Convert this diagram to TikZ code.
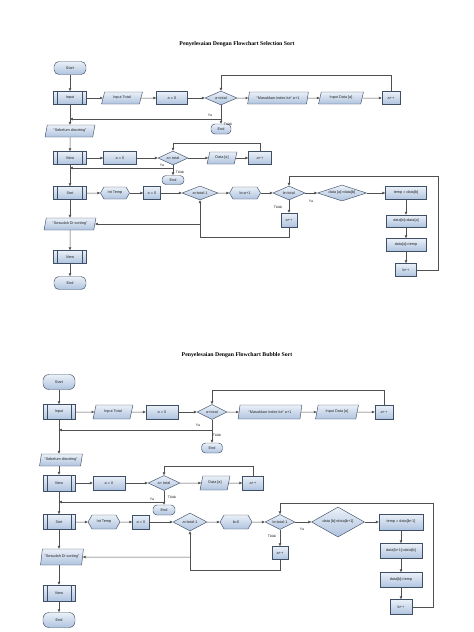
\documentclass[tikz,border=0pt]{standalone}
\usepackage{fontspec}
\setmainfont{Liberation Sans}
\newfontfamily\titlefont{Liberation Serif}
\usetikzlibrary{shapes.geometric,shapes.symbols,arrows.meta,calc}
\definecolor{bd}{HTML}{3F4F66}
\definecolor{ftop}{HTML}{EAF0F8}
\definecolor{fbot}{HTML}{AFC3DF}
\definecolor{lncol}{HTML}{505050}
\begin{document}
\begin{tikzpicture}[x=1pt,y=-1pt,
 base/.style={draw=bd, line width=0.45pt, top color=ftop, bottom color=fbot, font=\fontsize{3.8}{4.2}\selectfont, inner sep=0.5pt, text=black!85},
 term/.style={base, rectangle, rounded corners=5pt, minimum width=32pt, minimum height=13pt},
 proc/.style={base, rectangle, minimum height=13pt},
 predef/.style={base, rectangle, minimum width=33pt, minimum height=13pt,
   path picture={\draw[bd,line width=0.45pt] ([xshift=4pt]path picture bounding box.north west) -- ([xshift=4pt]path picture bounding box.south west);
                 \draw[bd,line width=0.45pt] ([xshift=-4pt]path picture bounding box.north east) -- ([xshift=-4pt]path picture bounding box.south east);}},
 io/.style={base, trapezium, trapezium left angle=70, trapezium right angle=110, trapezium stretches=true, minimum height=12pt},
 dec/.style={base, diamond, aspect=3, inner sep=0pt, minimum height=14pt},
 prep/.style={base, signal, signal to=east and west, signal pointer angle=120, minimum height=12pt},
 arr/.style={draw=lncol, line width=0.5pt, -{Triangle[length=2.8pt,width=2.4pt]}},
 lbl/.style={font=\fontsize{3.5}{4}\selectfont, inner sep=0.5pt, text=black!85},
 title/.style={font=\titlefont\bfseries\fontsize{5.8}{7}\selectfont}
]
\fill[white] (0,0) rectangle (474,632);
\useasboundingbox (0,0) rectangle (474,632);

% ===================== Selection Sort =====================
\node[title] (t1) at (237,44) {Penyelesaian Dengan Flowchart Selection Sort};
\node[term] (a1) at (70,68) {Start};
\node[predef] (a2) at (70,98) {Input};
\node[io, minimum width=41pt] (a3) at (122,98) {Input Total};
\node[proc, minimum width=31pt] (a4) at (172,98) {a = 0};
\node[dec, minimum width=32pt] (a5) at (221,98) {a<total};
\node[io, minimum width=61pt] (a6) at (278,98) {“Masukkan Index ke” a+1};
\node[io, minimum width=45pt] (a7) at (341,98) {Input Data [a]};
\node[proc, minimum width=18pt] (a8) at (391,98) {a++};
\node[term, minimum width=20pt, minimum height=10pt, rounded corners=4pt] (a9) at (221,129) {End};
\node[io, minimum width=50pt] (a10) at (70,131) {“Sebelum disorting”};
\coordinate (a1top) at (0,75);
\coordinate (a1ya) at (0,119);
\node[lbl] (ya1) at (210,115) {Ya};
\node[lbl] (td1) at (228,124) {Tidak};

\draw[arr] (a1) -- (a2);
\draw[arr] (a2) -- (a3);
\draw[arr] (a3) -- (a4);
\draw[arr] (a4) -- (a5);
\draw[arr] (a5) -- (a6);
\draw[arr] (a6) -- (a7);
\draw[arr] (a7) -- (a8);
\draw[arr] (a8.north) |- (a1top -| a5.north) -- (a5.north);
\draw[arr] (a5.south) -- (a9.north);
\draw[arr] (a5.south |- a1ya) -- (a2.south |- a1ya);
\draw[arr] (a2) -- (a10);

\node[predef] (b1) at (70,158) {View};
\node[proc, minimum width=33pt] (b2) at (120,158) {a = 0};
\node[dec, minimum width=30pt] (b3) at (173,158) {a< total};
\node[io, minimum width=30pt] (b4) at (222,158) {Data [a]};
\node[proc, minimum width=23pt] (b5) at (260,158) {a++};
\node[term, minimum width=22pt, minimum height=9pt, rounded corners=4pt] (b6) at (173,180) {End};
\coordinate (b1top) at (0,143);
\coordinate (b1ya) at (0,168);
\node[lbl] (ya2) at (162,165) {Ya};
\node[lbl] (td2) at (180,172) {Tidak};

\draw[arr] (a10) -- (b1);
\draw[arr] (b1) -- (b2);
\draw[arr] (b2) -- (b3);
\draw[arr] (b3) -- (b4);
\draw[arr] (b4) -- (b5);
\draw[arr] (b5.north) |- (b1top -| b3.north) -- (b3.north);
\draw[arr] (b3.south) -- (b6.north);
\draw[arr] (b3.south |- b1ya) -- (b1.south |- b1ya);

\node[predef] (c1) at (70,193) {Sort};
\node[prep, minimum width=29pt] (c2) at (115,193) {Int Temp};
\node[proc, minimum width=17pt] (c3) at (152,193) {a = 0};
\node[dec, minimum width=36pt] (c4) at (200,193) {a<total-1};
\node[prep, minimum width=31pt] (c5) at (245,193) {b=a+1};
\node[dec, minimum width=32pt] (c6) at (289,193) {b<total};
\node[dec, minimum width=49pt, minimum height=16pt] (c7) at (342,193) {data [a]>data[b]};
\node[proc, minimum width=41pt] (c8) at (406,193) {temp = data[b]};
\node[proc, minimum width=40pt, minimum height=12pt] (c9) at (406,221) {data[b]=data[a]};
\node[proc, minimum width=40pt] (c10) at (406,245) {data[a]=temp};
\node[proc, minimum width=21pt] (c11) at (406,270) {b++};
\node[proc, minimum width=16pt, minimum height=14pt] (c12) at (289,220) {a++};
\node[io, minimum width=52pt] (c13) at (70,224) {“Sesudah Di sorting”};
\node[predef] (c14) at (70,257) {View};
\node[term] (c15) at (70,283) {End};
\coordinate (c1r) at (438,176);
\coordinate (c1b) at (0,237);
\node[lbl] (ya3) at (311,201) {Ya};
\node[lbl] (td3) at (278,207) {Tidak};

\draw[arr] (b1) -- (c1);
\draw[arr] (c1) -- (c2);
\draw[arr] (c2) -- (c3);
\draw[arr] (c3) -- (c4);
\draw[arr] (c4) -- (c5);
\draw[arr] (c5) -- (c6);
\draw[arr] (c6) -- (c7);
\draw[arr] (c7) -- (c8);
\draw[arr] (c8) -- (c9);
\draw[arr] (c9) -- (c10);
\draw[arr] (c10) -- (c11);
\draw[arr] (c11.east) -| (c1r) -| (c6.north);
\draw[arr] (c6) -- (c12);
\draw[arr] (c12.south) |- (c1b -| c4.south) -- (c4.south);
\draw[arr] (c4.south |- c13) -- (c13.east);
\draw[arr] (c1) -- (c13);
\draw[arr] (c13) -- (c14);
\draw[arr] (c14) -- (c15);

% ===================== Bubble Sort =====================
\node[title] (t2) at (237,355) {Penyelesaian Dengan Flowchart Bubble Sort};
\node[term, minimum height=15pt, rounded corners=6pt] (d1) at (59,382) {Start};
\node[predef, minimum width=32pt, minimum height=15pt] (d2) at (59,412) {Input};
\node[io, minimum width=40pt, minimum height=14pt] (d3) at (113,412) {Input Total};
\node[proc, minimum width=32pt, minimum height=14pt] (d4) at (162,412) {a = 0};
\node[dec, minimum width=30pt, minimum height=15pt] (d5) at (212,412) {a<total};
\node[io, minimum width=64pt, minimum height=14pt] (d6) at (270,412) {“Masukkan Index ke” a+1};
\node[io, minimum width=43pt, minimum height=14pt] (d7) at (337,412) {Input Data [a]};
\node[proc, minimum width=18pt, minimum height=14pt] (d8) at (384,412) {a++};
\node[term, minimum width=21pt, minimum height=10pt, rounded corners=4pt] (d9) at (212,448) {End};
\node[io, minimum width=43pt, minimum height=12pt] (d10) at (61,460) {“Sebelum disorting”};
\coordinate (d1top) at (0,390);
\coordinate (d1ya) at (0,430);
\node[lbl] (ya4) at (198,425) {Ya};
\node[lbl] (td4) at (217,435) {Tidak};

\draw[arr] (d1) -- (d2);
\draw[arr] (d2) -- (d3);
\draw[arr] (d3) -- (d4);
\draw[arr] (d4) -- (d5);
\draw[arr] (d5) -- (d6);
\draw[arr] (d6) -- (d7);
\draw[arr] (d7) -- (d8);
\draw[arr] (d8.north) |- (d1top -| d5.north) -- (d5.north);
\draw[arr] (d5.south) -- (d9.north);
\draw[arr] (d5.south |- d1ya) -- (d2.south |- d1ya);
\draw[arr] (d2.south) -- (d2.south |- d10.north);

\node[predef, minimum width=32pt, minimum height=16pt] (e1) at (59,483) {View};
\node[proc, minimum width=32pt, minimum height=14pt] (e2) at (109,483) {a = 0};
\node[dec, minimum width=32pt, minimum height=15pt] (e3) at (164,483) {a< total};
\node[io, minimum width=30pt, minimum height=14pt] (e4) at (215,483) {Data [a]};
\node[proc, minimum width=21pt, minimum height=14pt] (e5) at (253,483) {a++};
\node[term, minimum width=22pt, minimum height=10pt, rounded corners=4pt] (e6) at (164,510) {End};
\coordinate (e1top) at (0,466);
\coordinate (e1ya) at (0,502);
\node[lbl] (ya5) at (152,499) {Ya};
\node[lbl] (td5) at (172,497) {Tidak};

\draw[arr] (d10.south -| e1.north) -- (e1.north);
\draw[arr] (e1) -- (e2);
\draw[arr] (e2) -- (e3);
\draw[arr] (e3) -- (e4);
\draw[arr] (e4) -- (e5);
\draw[arr] (e5.north) |- (e1top -| e3.north) -- (e3.north);
\draw[arr] (e3.south) -- (e6.north);
\draw[arr] (e3.south |- e1ya) -- (e1.south |- e1ya);

\node[predef, minimum width=32pt, minimum height=15pt] (f1) at (59,522) {Sort};
\node[prep, minimum width=32pt, minimum height=14pt] (f2) at (104,522) {Int Temp};
\node[proc, minimum width=17pt, minimum height=14pt] (f3) at (141,522) {a = 0};
\node[dec, minimum width=34pt, minimum height=18pt] (f4) at (190,522) {a<total-1};
\node[prep, minimum width=32pt, minimum height=14pt] (f5) at (236,522) {b=0};
\node[dec, minimum width=30pt, minimum height=15pt] (f6) at (280,522) {b<total-1};
\node[dec, minimum width=53pt, minimum height=30pt] (f7) at (338,522) {data [b]>data[b+1]};
\node[proc, minimum width=44pt, minimum height=16pt] (f8) at (401,522) {temp = data[b+1]};
\node[proc, minimum width=42pt, minimum height=15pt] (f9) at (401,551) {data[b+1]=data[b]};
\node[proc, minimum width=42pt, minimum height=15pt] (f10) at (401,580) {data[b]=temp};
\node[proc, minimum width=22pt, minimum height=15pt] (f11) at (401,607) {b++};
\node[proc, minimum width=16pt, minimum height=13pt] (f12) at (280,553) {a++};
\node[io, minimum width=43pt, minimum height=16pt] (f13) at (62,557) {“Sesudah Di sorting”};
\node[predef, minimum width=32pt, minimum height=16pt] (f14) at (59,593) {View};
\node[term, minimum height=15pt, rounded corners=6pt] (f15) at (59,620) {End};
\coordinate (f1r) at (433,503);
\coordinate (f1b) at (0,570);
\node[lbl] (ya6) at (302,529) {Ya};
\node[lbl] (td6) at (272,536) {Tidak};

\draw[arr] (e1) -- (f1);
\draw[arr] (f1) -- (f2);
\draw[arr] (f2) -- (f3);
\draw[arr] (f3) -- (f4);
\draw[arr] (f4) -- (f5);
\draw[arr] (f5) -- (f6);
\draw[arr] (f6) -- (f7);
\draw[arr] (f7) -- (f8);
\draw[arr] (f8) -- (f9);
\draw[arr] (f9) -- (f10);
\draw[arr] (f10) -- (f11);
\draw[arr] (f11.east) -| (f1r) -| (f6.north);
\draw[arr] (f6) -- (f12);
\draw[arr] (f12.south) |- (f1b -| f4.south) -- (f4.south);
\draw[arr] (f4.south |- f13) -- (f13.east);
\draw[arr] (f1.south) -- (f1.south |- f13.north);
\draw[arr] (f1.south |- f13.south) -- (f14.north);
\draw[arr] (f14) -- (f15);
\end{tikzpicture}
\end{document}
